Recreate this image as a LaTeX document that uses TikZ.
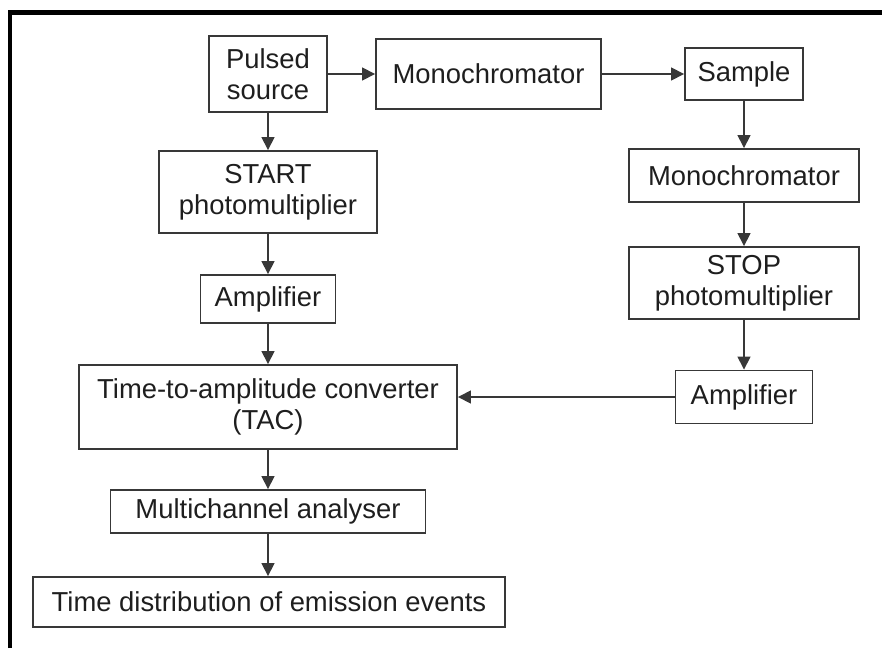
\documentclass[tikz,border=0pt]{standalone}
\usepackage{fontspec}
\setmainfont{Liberation Sans}
\usetikzlibrary{arrows.meta}
\definecolor{ink}{HTML}{383838}
\definecolor{txt}{HTML}{1E1E1E}
\begin{document}
\begin{tikzpicture}[x=1pt,y=-1pt,
  blk/.style={draw=ink, line width=1.9pt, inner sep=0pt, align=center,
    text=txt, font=\fontsize{27.4}{31}\selectfont},
  flow/.style={draw=ink, line width=1.6pt,
    -{Triangle[length=13pt,width=13pt]}}]
  \useasboundingbox (0,0) rectangle (882,648);
  % outer frame (top and left edges only)
  \draw[line width=4.5pt, black] (10,648) -- (10,12.5) -- (882,12.5);

  % source branch
  \node[blk, minimum width=118pt, minimum height=76pt] (ps) at (268,74) {Pulsed\\source};
  \node[blk, minimum width=225pt, minimum height=70pt] (mono1) at (488.5,74) {Monochromator};
  \node[blk, minimum width=118pt, minimum height=52pt] (sample) at (744,74) {Sample};

  % START channel
  \node[blk, minimum width=218pt, minimum height=82pt] (start) at (268,192) {START\\photomultiplier};
  \node[blk, minimum width=135pt, minimum height=48pt] (amp1) at (268,299) {Amplifier};

  % STOP channel
  \node[blk, minimum width=230pt, minimum height=53pt] (mono2) at (744,175.5) {Monochromator};
  \node[blk, minimum width=230pt, minimum height=72pt] (stop) at (744,283) {STOP\\photomultiplier};
  \node[blk, minimum width=137pt, minimum height=53pt] (amp2) at (744,397) {Amplifier};

  % timing electronics
  \node[blk, minimum width=378pt, minimum height=84pt] (tac) at (268,407) {Time-to-amplitude converter\\(TAC)};
  \node[blk, minimum width=315pt, minimum height=43pt] (mca) at (268,511.5) {Multichannel analyser};
  \node[blk, minimum width=472pt, minimum height=50pt] (tdist) at (269,602) {Time distribution of emission events};

  % connectors
  \draw[flow] (ps.east) -- (mono1.west);
  \draw[flow] (mono1.east) -- (sample.west);
  \draw[flow] (ps.south) -- (start.north);
  \draw[flow] (start.south) -- (amp1.north);
  \draw[flow] (amp1.south) -- (tac.north);
  \draw[flow] (sample.south) -- (mono2.north);
  \draw[flow] (mono2.south) -- (stop.north);
  \draw[flow] (stop.south) -- (amp2.north);
  \draw[flow] (amp2.west) -- (amp2.west -| tac.east);
  \draw[flow] (tac.south) -- (mca.north);
  \draw[flow] (mca.south) -- (mca.south |- tdist.north);
\end{tikzpicture}
\end{document}
